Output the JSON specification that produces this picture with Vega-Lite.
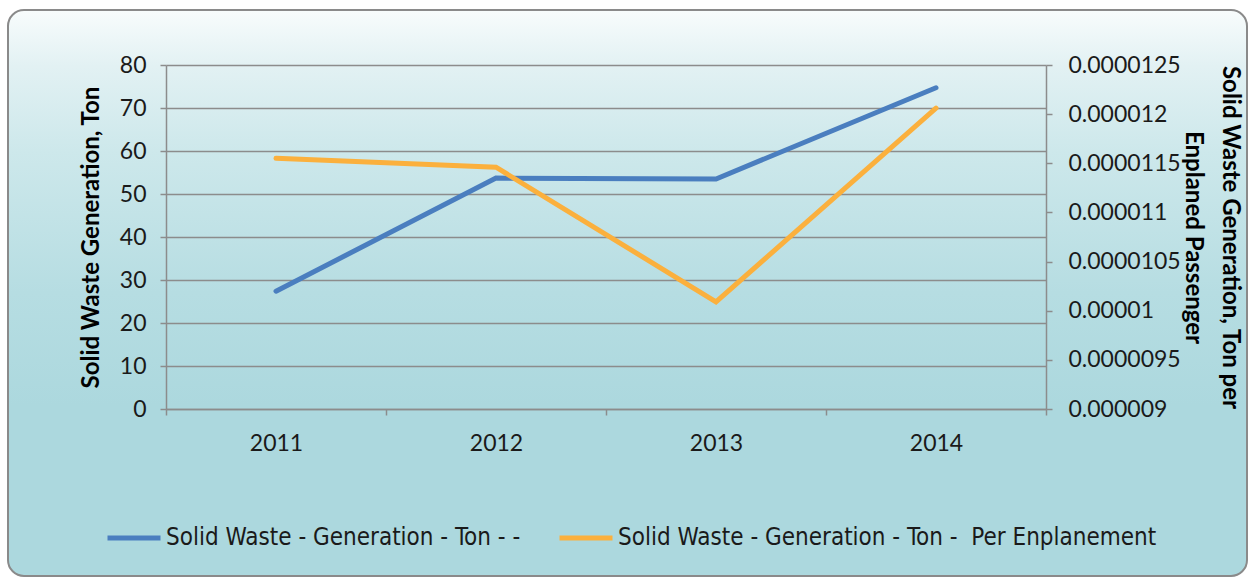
{
  "$schema": "https://vega.github.io/schema/vega-lite/v6.json",
  "width": 1239,
  "height": 566,
  "autosize": {"type": "none"},
  "padding": {"left": 8, "top": 10, "right": 3, "bottom": 2},
  "background": "#ffffff",
  "config": {
    "view": {
      "fill": {
        "gradient": "linear",
        "x1": 0, "y1": 0, "x2": 0, "y2": 1,
        "stops": [
          {"offset": 0, "color": "#f8fcfc"},
          {"offset": 0.1, "color": "#e2f1f3"},
          {"offset": 0.25, "color": "#cde8eb"},
          {"offset": 0.5, "color": "#b6dde2"},
          {"offset": 0.7, "color": "#acd8de"},
          {"offset": 1, "color": "#acd8de"}
        ]
      },
      "stroke": "#8a8a8a",
      "strokeWidth": 2,
      "cornerRadius": 16
    },
    "axis": {
      "domainColor": "#8c8c8c",
      "domainWidth": 1.5,
      "tickColor": "#8c8c8c",
      "tickWidth": 1.5,
      "tickSize": 6,
      "gridColor": "#8c8c8c",
      "gridWidth": 1.5,
      "labelFont": "Lato",
      "labelFontSize": 23,
      "labelColor": "#1a1a1a",
      "titleFont": "Lato",
      "titleFontWeight": "bold",
      "titleFontSize": 24,
      "titleColor": "#000000"
    }
  },
  "data": {
    "values": [
      {"year": "2011", "ton": 27.4, "perEnp": 0.00001155},
      {"year": "2012", "ton": 53.7, "perEnp": 0.00001146},
      {"year": "2013", "ton": 53.5, "perEnp": 0.00001009},
      {"year": "2014", "ton": 74.7, "perEnp": 0.00001206}
    ]
  },
  "encoding": {
    "x": {
      "field": "year",
      "type": "ordinal",
      "bandPosition": 0.5,
      "scale": {"type": "band", "range": [158, 1038], "paddingInner": 0, "paddingOuter": 0},
      "axis": {
        "orient": "bottom",
        "offset": -167,
        "tickBand": "extent",
        "labelAngle": 0,
        "labelPadding": 17,
        "title": null,
        "grid": false
      }
    }
  },
  "layer": [
    {
      "mark": {"type": "line", "strokeWidth": 5, "strokeCap": "round", "strokeJoin": "miter"},
      "encoding": {
        "y": {
          "field": "ton",
          "type": "quantitative",
          "scale": {"domain": [0, 80], "range": [399, 55], "nice": false, "zero": false},
          "axis": {
            "orient": "left",
            "offset": -158,
            "values": [0, 10, 20, 30, 40, 50, 60, 70, 80],
            "grid": true,
            "labelPadding": 14,
            "title": "Solid Waste Generation, Ton",
            "titlePadding": 16
          }
        },
        "color": {
          "datum": "Solid Waste - Generation - Ton - -",
          "scale": {
            "domain": ["Solid Waste - Generation - Ton - -", "Solid Waste - Generation - Ton - \u00a0Per Enplanement"],
            "range": ["#4a7ebf", "#fbb03d"]
          },
          "legend": {
            "title": null,
            "orient": "none",
            "direction": "horizontal",
            "legendX": 97,
            "legendY": 499,
            "symbolType": "stroke",
            "symbolSize": 2809,
            "symbolStrokeWidth": 5,
            "labelOffset": 3,
            "columnPadding": 28,
            "labelFont": "Liberation Sans Narrow, DejaVu Sans Condensed, Lato",
            "labelFontSize": 24,
            "labelColor": "#1a1a1a",
            "labelLimit": 800
          }
        }
      }
    },
    {
      "mark": {"type": "line", "strokeWidth": 5, "strokeCap": "round", "strokeJoin": "miter"},
      "encoding": {
        "y": {
          "field": "perEnp",
          "type": "quantitative",
          "scale": {"domain": [0.000009, 0.0000125], "range": [399, 55], "nice": false, "zero": false},
          "axis": {
            "orient": "right",
            "offset": -201,
            "values": [0.000009, 0.0000095, 0.00001, 0.0000105, 0.000011, 0.0000115, 0.000012, 0.0000125],
            "format": ".7~f",
            "grid": false,
            "labelPadding": 16,
            "title": ["Solid Waste Generation, Ton per", "Enplaned Passenger"],
            "titleLineHeight": 37,
            "titlePadding": 0
          }
        },
        "color": {"datum": "Solid Waste - Generation - Ton - \u00a0Per Enplanement"}
      }
    }
  ],
  "resolve": {"scale": {"y": "independent"}, "axis": {"y": "independent"}}
}
